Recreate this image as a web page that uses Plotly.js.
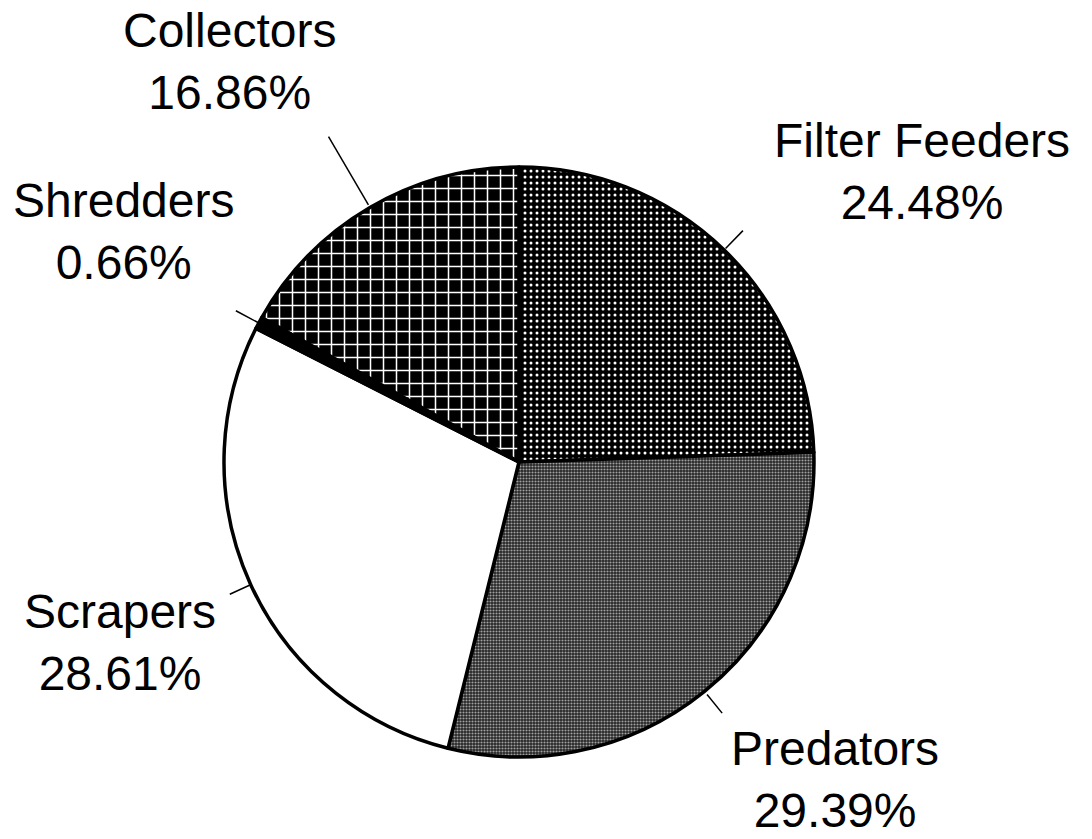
<!DOCTYPE html>
<html>
<head>
<meta charset="utf-8">
<script src="https://cdn.plot.ly/plotly-3.0.1.min.js"></script>
<style>html,body{margin:0;padding:0;background:#fff;}#chart{width:1092px;height:839px;}</style>
</head>
<body>
<div id="chart"></div>
<script>
// ---- data ----
const categories = ['Filter Feeders', 'Predators', 'Scrapers', 'Shredders', 'Collectors'];
const percents = [24.48, 29.39, 28.61, 0.66, 16.86];

// ---- styling (not data) ----
const W = 1092, H = 839;
const CX = 519, CY = 462, R = 295;           // pie centre / radius in px
const sliceColors = ['#000000', '#4a4a4a', '#ffffff', '#000000', '#000000'];
const patShapes  = ['.', '.', '', '', '+'];
const patBg      = ['#000000', '#262626', '#ffffff', '#000000', '#000000'];
const patFg      = ['#ffffff', '#a0a0a0', '#ffffff', '#ffffff', '#ffffff'];
const patSize    = [6, 3, 8, 8, 13];
const patSolid   = [0.2, 0.38, 0.3, 0.3, 0.22];
// leader line inner/outer radius and text offset (px) from the leader end
const leadInner = [R + 2, R + 4, R - 1, R + 1, R + 3];
const leadOuter = [R + 27, R + 28, R + 23, R + 26, R + 82];
const textDX = [179, 113, -110, -112, -99];
const textDY = [-59, 66, 48, -79, -75];

// ---- build ----
const total = percents.reduce((a, b) => a + b, 0);
let cum = 0;
const shapes = [], annotations = [];
percents.forEach((v, i) => {
  const mid = (cum + v / 2) / total * 2 * Math.PI; // clockwise from 12 o'clock
  cum += v;
  const sx = Math.sin(mid), sy = -Math.cos(mid);
  const x0 = CX + leadInner[i] * sx, y0 = CY + leadInner[i] * sy;
  const x1 = CX + leadOuter[i] * sx, y1 = CY + leadOuter[i] * sy;
  shapes.push({type: 'line', xref: 'paper', yref: 'paper',
    x0: x0 / W, y0: 1 - y0 / H, x1: x1 / W, y1: 1 - y1 / H,
    line: {color: '#000', width: 1.5}});
  annotations.push({xref: 'paper', yref: 'paper',
    x: (x1 + textDX[i]) / W, y: 1 - (y1 + textDY[i]) / H,
    xanchor: 'center', yanchor: 'middle', showarrow: false, align: 'center',
    text: categories[i] + '<br>' + v.toFixed(2) + '%',
    font: {family: 'Liberation Sans, Arial, sans-serif', size: 48, color: '#000'}});
});

const trace = {
  type: 'pie',
  labels: categories,
  values: percents,
  sort: false,
  direction: 'clockwise',
  rotation: 0,
  textinfo: 'none',
  hoverinfo: 'none',
  showlegend: false,
  domain: {x: [(CX - R) / W, (CX + R) / W], y: [1 - (CY + R) / H, 1 - (CY - R) / H]},
  marker: {
    colors: sliceColors,
    line: {color: '#000', width: 3.5},
    pattern: {shape: patShapes, bgcolor: patBg, fgcolor: patFg, size: patSize, solidity: patSolid, fillmode: 'replace'}
  }
};

Plotly.newPlot('chart', [trace], {
  width: W, height: H,
  margin: {l: 0, r: 0, t: 0, b: 0},
  paper_bgcolor: '#fff', plot_bgcolor: '#fff',
  shapes: shapes, annotations: annotations
}, {staticPlot: true});
</script>
</body>
</html>
